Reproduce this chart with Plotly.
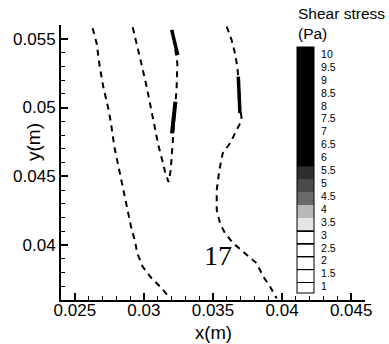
import plotly.graph_objects as go

# ---- data ----
curve1_x = [0.02629, 0.02658, 0.02682, 0.02706, 0.02742, 0.0276, 0.02786, 0.02827, 0.02863,
            0.02907, 0.02936, 0.02952, 0.02991, 0.03056, 0.03129, 0.03189]
curve1_y = [0.05576, 0.05467, 0.05285, 0.05151, 0.04994, 0.04897, 0.04715, 0.04509, 0.04327,
            0.04133, 0.04024, 0.0394, 0.03842, 0.03758, 0.03685, 0.03612]

curveV_x = [0.02919, 0.02948, 0.02984, 0.0302, 0.03049, 0.0308, 0.03104, 0.03129, 0.03153, 0.03178,
            0.03194, 0.03201, 0.03208, 0.03218, 0.03232, 0.03237, 0.03242, 0.03225, 0.03208]
curveV_y = [0.05583, 0.05467, 0.05309, 0.05151, 0.05006, 0.0486, 0.04727, 0.04631, 0.04533, 0.04458,
            0.04545, 0.04642, 0.0474, 0.04909, 0.05042, 0.05151, 0.05321, 0.05455, 0.05551]

curve4_x = [0.03599, 0.03635, 0.03659, 0.03676, 0.03688, 0.03695, 0.03708, 0.03659, 0.03623, 0.0357,
            0.03546, 0.03527, 0.03527, 0.03551, 0.03587, 0.03647, 0.03732, 0.03816, 0.03864, 0.03913,
            0.03961]
curve4_y = [0.05588, 0.05491, 0.05394, 0.05297, 0.05164, 0.05018, 0.04909, 0.04812, 0.0474, 0.04667,
            0.04545, 0.044, 0.04255, 0.04158, 0.04085, 0.04012, 0.0394, 0.03867, 0.0377, 0.03697,
            0.03612]

# high shear-stress patches (solid black)
patchA_x = [0.03201, 0.03225, 0.03245]
patchA_y = [0.05564, 0.05470, 0.05382]
patchB_x = [0.03228, 0.03215, 0.03203]
patchB_y = [0.05042, 0.0493, 0.04812]
patchC_x = [0.03683, 0.03692, 0.03695]
patchC_y = [0.05224, 0.05090, 0.04958]

# axis ticks
x_tickvals = [0.025, 0.03, 0.035, 0.04, 0.045]
x_ticktext = ["0.025", "0.03", "0.035", "0.04", "0.045"]
y_tickvals = [0.04, 0.045, 0.05, 0.055]
y_ticktext = ["0.04", "0.045", "0.05", "0.055"]

# colour legend levels
levels = [1, 1.5, 2, 2.5, 3, 3.5, 4, 4.5, 5, 5.5, 6, 6.5, 7, 7.5, 8, 8.5, 9, 9.5, 10]
level_labels = ["1", "1.5", "2", "2.5", "3", "3.5", "4", "4.5", "5", "5.5",
                "6", "6.5", "7", "7.5", "8", "8.5", "9", "9.5", "10"]
level_colors = ["#ffffff", "#ffffff", "#ffffff", "#ffffff", "#ffffff", "#e6e6e6", "#b8b8b8",
                "#6a6a6a", "#4a4a4a", "#2e2e2e", "#000000", "#000000", "#000000", "#000000",
                "#000000", "#000000", "#000000", "#000000", "#000000"]

label_17 = "17"
label_17_x = 0.03533
label_17_y = 0.03927

# ---- colourscale for the legend bar ----
cmin, cmax = 0.75, 10.28


def color_at(v):
    col = level_colors[0]
    for L, c in zip(levels, level_colors):
        if v >= L - 0.35:
            col = c
    # thin black separators between the white boxes
    for L, c in zip(levels, level_colors):
        if c == "#ffffff" and abs(v - (L + 0.15)) < 0.025:
            return "#000000"
    return col


N = 800
colorscale = [[i / N, color_at(cmin + i / N * (cmax - cmin))] for i in range(N + 1)]

FONT = "Arial, Liberation Sans, sans-serif"

fig = go.Figure()
dash_line = dict(color="black", width=2, dash="6px,5px")
for xs, ys in [(curve1_x, curve1_y), (curveV_x, curveV_y), (curve4_x, curve4_y)]:
    fig.add_trace(go.Scatter(x=xs, y=ys, mode="lines", line=dash_line, hoverinfo="skip"))
for xs, ys, w in [(patchA_x, patchA_y, 3.5), (patchB_x, patchB_y, 4), (patchC_x, patchC_y, 3.5)]:
    fig.add_trace(go.Scatter(x=xs, y=ys, mode="lines", line=dict(color="black", width=w),
                             hoverinfo="skip"))

# legend bar
fig.add_trace(go.Scatter(
    x=[0.03], y=[0.04], mode="markers", hoverinfo="skip",
    marker=dict(size=0.1, opacity=0, color=[5], colorscale=colorscale, cmin=cmin, cmax=cmax,
                showscale=True,
                colorbar=dict(
                    x=(297 - 61) / 304, xanchor="left", y=(300 - 293) / 275, yanchor="bottom",
                    len=246 / 275, lenmode="fraction", thickness=17, thicknessmode="pixels",
                    outlinecolor="black", outlinewidth=1,
                    tickvals=levels, ticktext=level_labels,
                    ticks="outside", ticklen=5, tickcolor="rgba(0,0,0,0)",
                    tickfont=dict(family=FONT, size=10.5, color="black"),
                    xpad=0, ypad=0,
                ))))

fig.add_annotation(text=label_17, x=label_17_x, y=label_17_y, xref="x", yref="y",
                   showarrow=False, font=dict(family="Liberation Serif, Times New Roman, serif",
                                              size=28, color="black"))
fig.add_annotation(text="Shear stress<br>(Pa)", x=(296 - 61) / 304, y=(300 - 44) / 275,
                   xref="paper", yref="paper", xanchor="left", yanchor="bottom", align="left",
                   showarrow=False, font=dict(family=FONT, size=15.5, color="black"))
fig.add_annotation(text="x(m)", x=0.5, y=-(332 - 300) / 275, xref="paper", yref="paper",
                   xanchor="center", yanchor="middle", showarrow=False, borderpad=0,
                   font=dict(family=FONT, size=18.5, color="black"))
fig.add_annotation(text="y(m)", x=-(61 - 33) / 304, y=(300 - 142) / 275, xref="paper",
                   yref="paper", xanchor="center", yanchor="middle", textangle=-90,
                   showarrow=False, font=dict(family=FONT, size=19, color="black"))

axis_common = dict(showgrid=False, zeroline=False, showline=True, linecolor="black", linewidth=2,
                   ticks="inside", ticklen=7, tickwidth=1.5, tickcolor="black",
                   tickfont=dict(family=FONT, size=17, color="black"), mirror=False)

fig.update_xaxes(range=[0.024, 0.046], tickvals=x_tickvals, ticktext=x_ticktext,
                 ticklabelstandoff=-6,
                 minor=dict(ticks="inside", ticklen=4, tickwidth=1, tickcolor="black",
                            dtick=0.001, tick0=0.024),
                 **axis_common)
fig.update_yaxes(range=[0.036, 0.056], tickvals=y_tickvals, ticktext=y_ticktext,
                 minor=dict(ticks="inside", ticklen=4, tickwidth=1, tickcolor="black",
                            dtick=0.001, tick0=0.036),
                 **axis_common)

fig.update_layout(width=389, height=344, margin=dict(l=61, r=24, t=25, b=44),
                  plot_bgcolor="white", paper_bgcolor="white", showlegend=False)

fig.write_html("out.html")
